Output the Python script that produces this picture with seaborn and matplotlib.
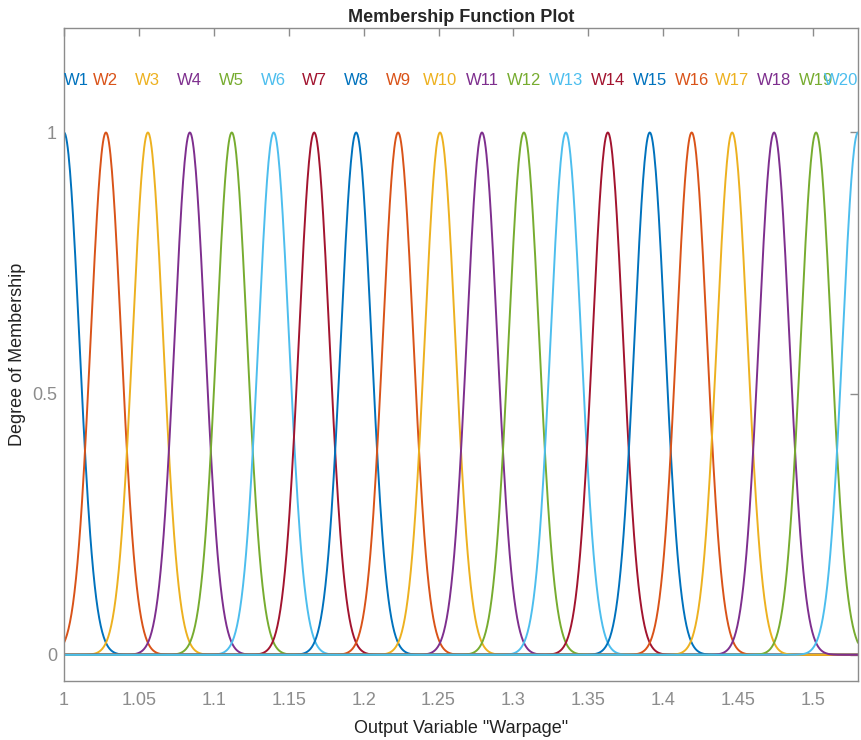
import numpy as np
import pandas as pd
import matplotlib
matplotlib.use("Agg")
import matplotlib.pyplot as plt
import seaborn as sns

# ---- data ----
mf_names = [f"W{i}" for i in range(1, 21)]
centers = [1.000, 1.028, 1.056, 1.084, 1.112, 1.140, 1.167, 1.195, 1.223, 1.251,
           1.279, 1.307, 1.335, 1.363, 1.391, 1.419, 1.446, 1.474, 1.502, 1.530]
sigmas = [0.0102] * 20
x_range = [1.0, 1.53]
n_points = 1061
x_ticks = [1, 1.05, 1.1, 1.15, 1.2, 1.25, 1.3, 1.35, 1.4, 1.45, 1.5]
x_tick_labels = ["1", "1.05", "1.1", "1.15", "1.2", "1.25", "1.3", "1.35", "1.4", "1.45", "1.5"]
y_ticks = [0, 0.5, 1]
y_tick_labels = ["0", "0.5", "1"]

matlab_colors = ["#0072BD", "#D95319", "#EDB120", "#7E2F8E", "#77AC30", "#4DBEEE", "#A2142F"]
palette = {n: matlab_colors[i % 7] for i, n in enumerate(mf_names)}

x = np.linspace(x_range[0], x_range[1], n_points)
frames = []
for name, c, s in zip(mf_names, centers, sigmas):
    frames.append(pd.DataFrame({"x": x, "y": np.exp(-(x - c) ** 2 / (2 * s ** 2)), "mf": name}))
df = pd.concat(frames, ignore_index=True)

sns.set_style("white")
plt.rcParams["font.family"] = ["Liberation Sans", "DejaVu Sans"]

fig = plt.figure(figsize=(8.62, 7.40), dpi=100)
ax = fig.add_axes([64 / 862, 1 - 681 / 740, (858 - 64) / 862, (681 - 28) / 740])

sns.lineplot(data=df, x="x", y="y", hue="mf", palette=palette, hue_order=mf_names,
             linewidth=1.4, legend=False, ax=ax, sort=False, estimator=None)

ax.set_xlim(x_range)
ax.set_ylim(-0.05, 1.2)
ax.set_xticks(x_ticks)
ax.set_xticklabels(x_tick_labels)
ax.set_yticks(y_ticks)
ax.set_yticklabels(y_tick_labels)

gray = "#8c8c8c"
for sp in ax.spines.values():
    sp.set_visible(True)
    sp.set_color(gray)
    sp.set_linewidth(1.0)
ax.tick_params(direction="in", length=6, width=1.0, colors=gray, labelcolor=gray,
               labelsize=13, top=True, right=True)
ax.tick_params(axis="x", pad=8)
ax.tick_params(axis="y", pad=5)

for i, (name, c) in enumerate(zip(mf_names, centers)):
    ha = "center"
    if i == 0:
        ha = "left"
    elif i == len(mf_names) - 1:
        ha = "right"
    ax.text(c, 1.1, name, color=palette[name], ha=ha, va="center", fontsize=12)

ax.set_xlabel('Output Variable "Warpage"', fontsize=13, color="#222222", labelpad=8)
ax.set_ylabel("Degree of Membership", fontsize=13, color="#222222", labelpad=4)
ax.set_title("Membership Function Plot", fontsize=13, fontweight="bold", pad=4)

fig.savefig("out.png", dpi=100)
